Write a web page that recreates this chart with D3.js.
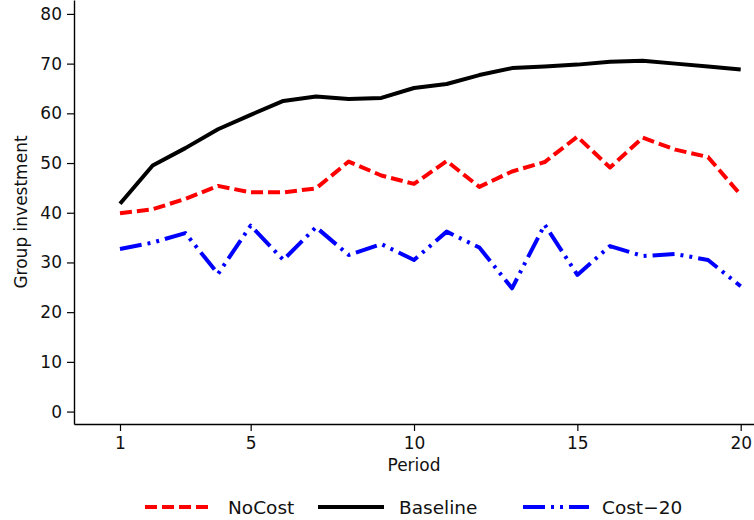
<!DOCTYPE html>
<html><head><meta charset="utf-8">
<script src="https://cdn.jsdelivr.net/npm/d3@7"></script>
<style>
html,body{margin:0;padding:0;background:#fff;}
svg{display:block;font-family:"DejaVu Sans",sans-serif;}
</style></head>
<body><svg id="c" width="754" height="520"></svg>
<script>
const periods = [1,2,3,4,5,6,7,8,9,10,11,12,13,14,15,16,17,18,19,20];
const noCost   = [39.9,40.7,42.8,45.4,44.1,44.1,44.9,50.3,47.5,45.8,50.4,45.2,48.3,50.2,55.3,49.1,55.1,52.7,51.2,43.6];
const baseline = [41.8,49.5,53.0,56.8,59.7,62.5,63.4,62.9,63.1,65.1,65.9,67.7,69.1,69.4,69.8,70.4,70.6,70.0,69.4,68.8];
const cost20   = [32.7,34.0,35.9,27.7,37.4,30.5,37.1,31.5,33.7,30.5,36.2,33.0,24.8,37.6,27.5,33.3,31.3,31.7,30.5,25.2];
const xTicks = [1,5,10,15,20];
const yTicks = [0,10,20,30,40,50,60,70,80];
const seriesNames = ["NoCost","Baseline","Cost\u221220"];

const svg = d3.select("#c");
const x = d3.scaleLinear().domain([-0.408, 20.407]).range([74, 754]);
const y = d3.scaleLinear().domain([-2.5, 82.8]).range([424, 0]);

const FONT = "DejaVu Sans, sans-serif";
const gx = svg.append("g").attr("transform","translate(0,424)")
  .call(d3.axisBottom(x).tickValues(xTicks).tickSize(7).tickPadding(6).tickSizeOuter(0).tickFormat(d3.format("d")));
const gy = svg.append("g").attr("transform","translate(74,0)")
  .call(d3.axisLeft(y).tickValues(yTicks).tickSize(7).tickPadding(5).tickSizeOuter(0).tickFormat(d3.format("d")));
[gx,gy].forEach(g=>{
  g.select(".domain").attr("stroke","#000").attr("stroke-width",1.4);
  g.selectAll(".tick line").attr("stroke","#000").attr("stroke-width",1.2);
  g.selectAll(".tick text").attr("fill","#111").style("font-size","17px").style("font-family",FONT);
});

svg.append("text").attr("x",414).attr("y",471).attr("text-anchor","middle")
  .style("font-size","17px").attr("fill","#111").text("Period");
svg.append("text").attr("transform","translate(27,212) rotate(-90)").attr("text-anchor","middle")
  .style("font-size","17px").attr("fill","#111").text("Group investment");

const styles = [
  {data:noCost, color:"#ff0000", dash:"12,5"},
  {data:baseline, color:"#000000", dash:null},
  {data:cost20, color:"#0000ff", dash:"22,6,3,6,3,6"}
];
const line = d3.line().x((d,i)=>x(periods[i])).y(d=>y(d));
styles.forEach(s=>{
  const p = svg.append("path").datum(s.data).attr("d",line)
    .attr("fill","none").attr("stroke",s.color).attr("stroke-width",4)
    .attr("stroke-linejoin","round");
  if(s.dash) p.attr("stroke-dasharray",s.dash);
});

// legend
const legX = [145, 318, 523];
const legT = [228, 399, 602];
const legG = svg.append("g");
styles.forEach((s,i)=>{
  const l = legG.append("line").attr("x1",legX[i]).attr("x2",legX[i]+66)
    .attr("y1",507).attr("y2",507).attr("stroke",s.color).attr("stroke-width",4);
  if(s.dash) l.attr("stroke-dasharray",s.dash);
  legG.append("text").attr("x",legT[i]).attr("y",514)
    .style("font-size","18.5px").attr("fill","#111").text(seriesNames[i]);
});
</script></body></html>
